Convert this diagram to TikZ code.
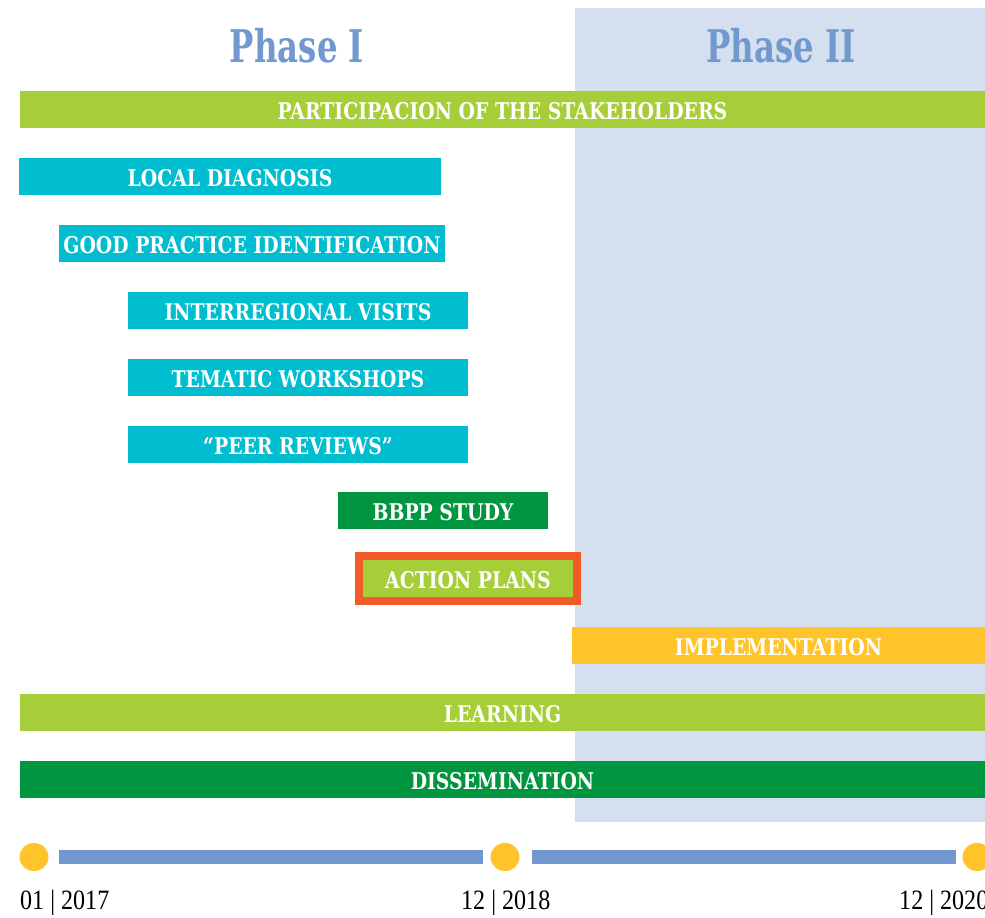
\documentclass[tikz,border=0pt]{standalone}
\usepackage{fontspec}
\newfontfamily\barfont[FakeStretch=0.82]{DejaVu Serif}
\newfontfamily\phasefont[FakeStretch=0.72]{DejaVu Serif}
\newfontfamily\datefont[FakeStretch=0.86]{Liberation Serif}
\definecolor{cgreen}{HTML}{A6CE39}
\definecolor{ccyan}{HTML}{00BDD0}
\definecolor{cdark}{HTML}{00963F}
\definecolor{cyel}{HTML}{FFC42A}
\definecolor{corange}{HTML}{F15A29}
\definecolor{cphase}{HTML}{D4E0F0}
\definecolor{cphtext}{HTML}{7198CF}
\definecolor{cline}{HTML}{7097CF}
\tikzset{
  bar/.style={anchor=north west, inner sep=0pt, outer sep=0pt, minimum height=37pt, text=white,
    font=\barfont\bfseries\fontsize{23}{25}\selectfont, text height=19pt, text depth=0pt},
  phasetxt/.style={text=cphtext, font=\phasefont\bfseries\fontsize{45}{48}\selectfont, inner sep=0pt},
  dot/.style={ellipse, fill=cyel, minimum width=29pt, minimum height=28pt, inner sep=0pt},
  tl/.style={draw=cline, line width=14pt},
  datetxt/.style={font=\datefont\fontsize{28}{30}\selectfont, text=black, inner sep=0pt, anchor=west}
}
\usetikzlibrary{shapes.geometric}
\begin{document}
\begin{tikzpicture}[x=1pt,y=-1pt]
\clip (0,0) rectangle (985,918);
\fill[white] (0,0) rectangle (985,918);
\fill[cphase] (575,8) rectangle (985,822);
\node[phasetxt] (ph1) at (297,46) {Phase I};
\node[phasetxt] (ph2) at (781,46) {Phase II};
\node[bar, fill=cgreen, minimum width=965pt] (part) at (20,91) {PARTICIPACION OF THE STAKEHOLDERS};
\node[bar, fill=ccyan, minimum width=422pt] (ld) at (19,158) {LOCAL DIAGNOSIS};
\node[bar, fill=ccyan, minimum width=386pt] (gp) at (59,225) {GOOD PRACTICE IDENTIFICATION};
\node[bar, fill=ccyan, minimum width=340pt] (iv) at (128,292) {INTERREGIONAL VISITS};
\node[bar, fill=ccyan, minimum width=340pt] (tw) at (128,359) {TEMATIC WORKSHOPS};
\node[bar, fill=ccyan, minimum width=340pt] (pr) at (128,426) {\textquotedblleft PEER REVIEWS\textquotedblright};
\node[bar, fill=cdark, minimum width=210pt] (bb) at (338,492) {BBPP STUDY};
\node[bar, fill=cgreen, minimum width=218pt, minimum height=45pt, draw=corange, line width=8pt] (ap) at (359,556) {ACTION PLANS};
\node[bar, fill=cyel, minimum width=413pt] (im) at (572,627) {IMPLEMENTATION};
\node[bar, fill=cgreen, minimum width=965pt] (le) at (20,694) {LEARNING};
\node[bar, fill=cdark, minimum width=965pt] (di) at (20,761) {DISSEMINATION};
\node[dot] (c1) at (34,857) {};
\node[dot] (c2) at (505,857) {};
\node[dot] (c3) at (977,857) {};
\draw[tl, shorten <=10pt, shorten >=7pt] (c1.east) -- (c2.west);
\draw[tl, shorten <=12pt, shorten >=6pt] (c2.east) -- (c3.west);
\node[datetxt] (d1) at (20,903) {01 | 2017};
\node[datetxt] (d2) at (461,903) {12 | 2018};
\node[datetxt] (d3) at (899,903) {12 | 2020};
\end{tikzpicture}
\end{document}
